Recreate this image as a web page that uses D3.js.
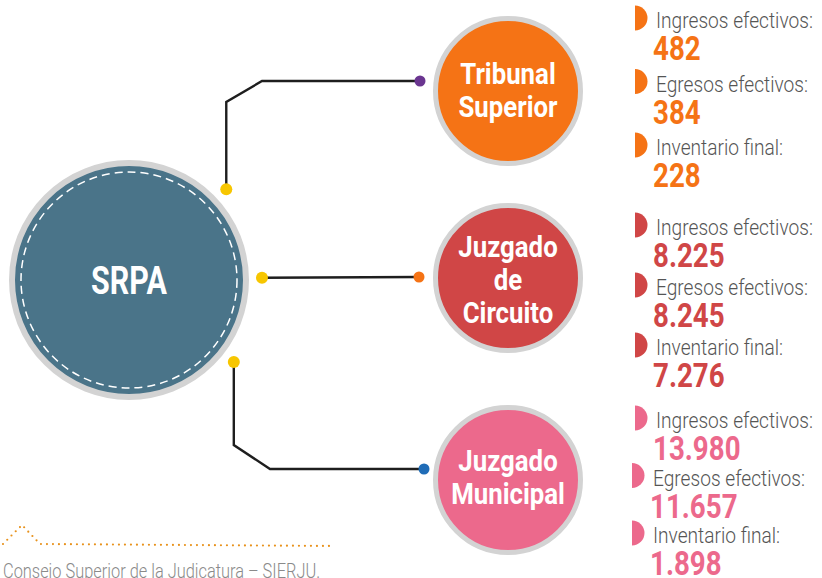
<!DOCTYPE html>
<html><head><meta charset="utf-8">
<script src="https://cdn.jsdelivr.net/npm/d3@7"></script>
<style>
html,body{margin:0;padding:0;background:#fff;}
svg{display:block;font-family:Roboto,"DejaVu Sans",sans-serif;}
</style></head>
<body><svg id="c" width="822" height="578"></svg>
<script>
// ---- data ----
const rootLabel = "SRPA";
const courts = ["Tribunal Superior", "Juzgado de Circuito", "Juzgado Municipal"];
const courtLines = [["Tribunal", "Superior"], ["Juzgado", "de", "Circuito"], ["Juzgado", "Municipal"]];
const metricLabels = ["Ingresos efectivos:", "Egresos efectivos:", "Inventario final:"];
const ingresos = [482, 8225, 13980];
const egresos = [384, 8245, 11657];
const inventario = [228, 7276, 1898];
const sourceText = "Consejo Superior de la Judicatura – SIERJU.";

// ---- style / layout ----
const courtColors = ["#f57315", "#d04646", "#ec698c"];
const endDotColors = ["#6a3590", "#f57315", "#1f6cb7"];
const rootColor = "#4a7489";
const ringColor = "#d3d3d3";
const yellow = "#f7c600";

const svg = d3.select("#c");
const fmt = d3.formatLocale({decimal: ",", thousands: ".", grouping: [3], currency: ["$", ""]}).format(",d");

const root = {x: 129, y: 280, r: 114};
const courtX = 508, courtR = 70;
const courtY = d3.scaleOrdinal().domain(courts).range([91, 278, 480]);
const titleShift = d3.scaleOrdinal().domain(courts).range([9, 12, 7]);
const endY = d3.scaleOrdinal().domain(courts).range([81, 277, 469]);
const endX = d3.scaleOrdinal().domain(courts).range([420, 419, 424]);
const startAngle = d3.scaleOrdinal().domain(courts).range([-43, -1, 38]);

// connectors
const line = d3.line();
courts.forEach((c, i) => {
  const a = startAngle(c) * Math.PI / 180;
  const sx = root.x + 133 * Math.cos(a), sy = root.y + 133 * Math.sin(a);
  let pts;
  if (i === 0) pts = [[sx, sy], [sx, 102], [262, endY(c)], [endX(c), endY(c)]];
  else if (i === 1) pts = [[sx, sy], [endX(c), endY(c)]];
  else pts = [[sx, sy], [sx, 445], [270, endY(c)], [endX(c), endY(c)]];
  svg.append("path").attr("d", line(pts)).attr("fill", "none")
    .attr("stroke", "#1e1e1e").attr("stroke-width", 2.4).attr("stroke-linejoin", "miter");
  svg.append("circle").attr("cx", sx).attr("cy", sy).attr("r", 6).attr("fill", yellow);
  svg.append("circle").attr("cx", endX(c)).attr("cy", endY(c)).attr("r", 5.5).attr("fill", endDotColors[i]);
});

// root circle
svg.append("circle").attr("cx", root.x).attr("cy", root.y).attr("r", root.r + 3)
  .attr("fill", rootColor).attr("stroke", ringColor).attr("stroke-width", 6);
svg.append("circle").attr("cx", root.x).attr("cy", root.y).attr("r", 108)
  .attr("fill", "none").attr("stroke", "#fff").attr("stroke-width", 1.5).attr("stroke-dasharray", "8 5");
svg.append("g").attr("transform", `translate(${root.x},${root.y + 14}) scale(0.8,1)`)
  .append("text").attr("text-anchor", "middle").attr("font-weight", 700).attr("font-size", 38)
  .attr("fill", "#fff").text(rootLabel);

// court circles
courts.forEach((c, i) => {
  const g = svg.append("g").attr("transform", `translate(${courtX},${courtY(c)})`);
  g.append("circle").attr("r", courtR + 2.5).attr("fill", courtColors[i])
    .attr("stroke", ringColor).attr("stroke-width", 5);
  const lines = courtLines[i];
  const lh = 33;
  const y0 = -((lines.length - 1) * lh) / 2 + titleShift(c);
  lines.forEach((t, j) => {
    g.append("g").attr("transform", `translate(0,${y0 + j * lh}) scale(0.86,1)`)
      .append("text").attr("text-anchor", "middle").attr("font-weight", 700)
      .attr("font-size", 30).attr("fill", "#fff").text(t);
  });
});

// right-hand figures
const groupTop = [28, 235, 428];
const groupStep = [63.5, 60, 57.5];
const valuesBy = [ingresos, egresos, inventario];
const half = d3.arc().innerRadius(0).outerRadius(12.5).startAngle(0).endAngle(Math.PI);
courts.forEach((c, i) => {
  const ys = d3.scaleLinear().domain([0, 1]).range([groupTop[i], groupTop[i] + groupStep[i]]);
  metricLabels.forEach((m, k) => {
    const yb = ys(k);
    const dx = (i === 2 && k > 0) ? -3 : 0;
    svg.append("path").attr("d", half).attr("transform", `translate(${635 + dx},${yb - 10})`)
      .attr("fill", courtColors[i]);
    svg.append("g").attr("transform", `translate(${656 + dx},${yb}) scale(0.87,1)`)
      .append("text").attr("font-weight", 300).attr("font-size", 22).attr("fill", "#555")
      .text(m);
    svg.append("g").attr("transform", `translate(${653 + dx},${yb + 32}) scale(0.84,1)`)
      .append("text").attr("font-weight", 700).attr("font-size", 33).attr("fill", courtColors[i])
      .text(fmt(valuesBy[k][i]));
  });
});

// source
svg.append("path").attr("d", line([[3, 544], [22, 525], [40, 544], [334, 546]]))
  .attr("fill", "none").attr("stroke", "#e8921c").attr("stroke-width", 2.2)
  .attr("stroke-linecap", "round").attr("stroke-dasharray", "0 6");
svg.append("g").attr("transform", "translate(3,578) scale(0.82,1)")
  .append("text").attr("font-weight", 300).attr("font-size", 20).attr("fill", "#8a8a8a").text(sourceText);
</script></body></html>
